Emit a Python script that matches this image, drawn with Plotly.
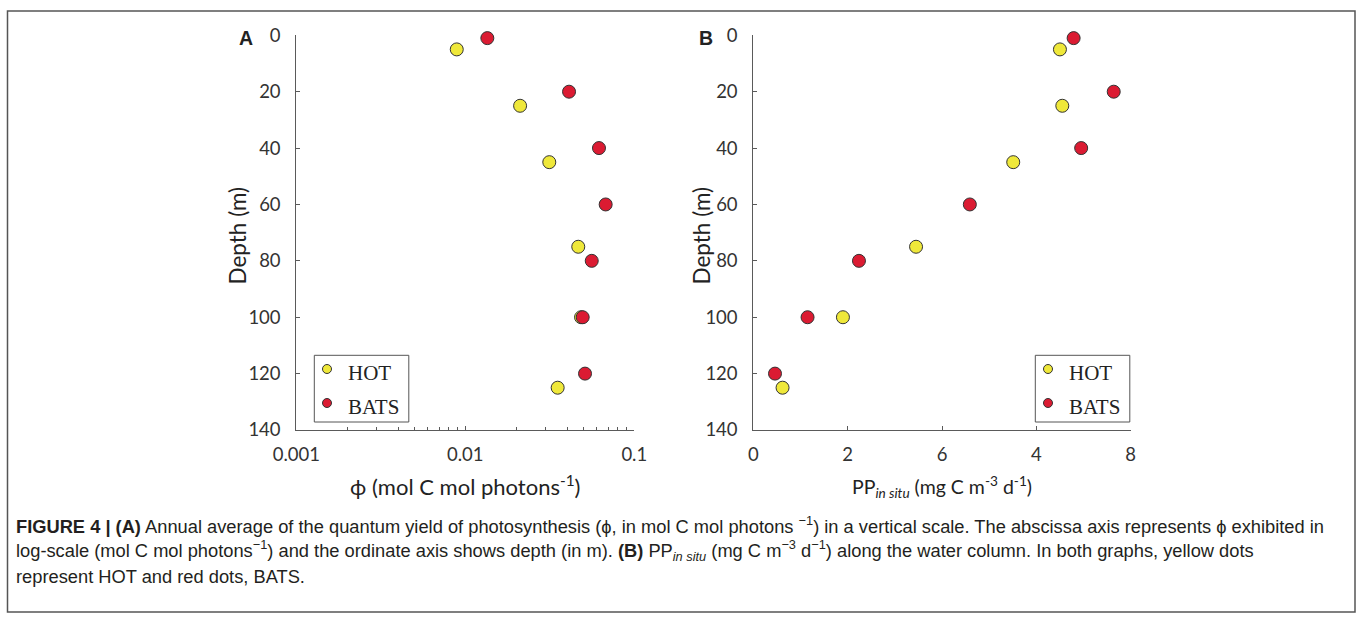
import plotly.graph_objects as go

# ---- data ----
depth_hot = [5, 25, 45, 75, 100, 125]
depth_bats = [1, 20, 40, 60, 80, 100, 120]
phi_hot = [0.0089, 0.0211, 0.0314, 0.0466, 0.0484, 0.0352]
phi_bats = [0.0135, 0.0411, 0.0618, 0.0677, 0.0560, 0.0495, 0.0511]
pp_hot = [6.50, 6.55, 5.51, 3.45, 1.90, 0.62]
pp_bats = [6.79, 7.64, 6.95, 4.59, 2.24, 1.15, 0.46]

y_ticks = [0, 20, 40, 60, 80, 100, 120, 140]
xa_ticks = [0.001, 0.01, 0.1]
xa_labels = ["0.001", "0.01", "0.1"]
xa_minor = [k * 0.001 for k in range(2, 10)] + [k * 0.01 for k in range(2, 10)]
xb_ticks = [0, 2, 4, 6, 8]
xb_labels = ["0", "2", "6", "4", "8"]   # as printed in the original figure
series_names = ["HOT", "BATS"]

YELLOW = "#EFE83A"
RED = "#DB1B32"
EDGE = "#333333"
AXC = "#5a5a5a"
W, H = 1362, 619

def px(x):
    return x / W

def py(y):
    return 1 - y / H

fig = go.Figure()

def mk(color, size):
    return dict(size=size, color=color, line=dict(color=EDGE, width=1))

# Panel A
fig.add_trace(go.Scatter(x=phi_hot, y=depth_hot, mode="markers", marker=mk(YELLOW, 13),
                         xaxis="x", yaxis="y", showlegend=False, name="HOT", cliponaxis=False))
fig.add_trace(go.Scatter(x=phi_bats, y=depth_bats, mode="markers", marker=mk(RED, 13),
                         xaxis="x", yaxis="y", showlegend=False, name="BATS", cliponaxis=False))
# Panel B
fig.add_trace(go.Scatter(x=pp_hot, y=depth_hot, mode="markers", marker=mk(YELLOW, 13),
                         xaxis="x2", yaxis="y2", showlegend=False, name="HOT", cliponaxis=False))
fig.add_trace(go.Scatter(x=pp_bats, y=depth_bats, mode="markers", marker=mk(RED, 13),
                         xaxis="x2", yaxis="y2", showlegend=False, name="BATS", cliponaxis=False))

tickfont = dict(family="Lato", size=18.5, color="#333333")

def tfont(size):
    return dict(family="Lato", size=size, color="#222222")

common = dict(showline=True, linecolor=AXC, linewidth=1, ticks="inside", ticklen=4,
              tickcolor=AXC, tickwidth=1, showgrid=False, zeroline=False, mirror=False,
              tickfont=tickfont, automargin=False)

ydom = [py(430), py(35.3)]

fig.update_layout(
    width=W, height=H,
    margin=dict(l=0, r=0, t=0, b=0, pad=0, autoexpand=False),
    paper_bgcolor="white", plot_bgcolor="white",
    showlegend=False,
    xaxis=dict(domain=[px(296.3), px(634.3)], type="log", range=[-3, -1],
               tickmode="array", tickvals=xa_ticks, ticktext=xa_labels, ticklabelstandoff=8,
               minor=dict(tickmode="array", tickvals=xa_minor, ticks="inside", ticklen=3,
                          tickcolor=AXC, showgrid=False),
               title=dict(text="ϕ (mol C mol photons<sup>-1</sup>)", font=tfont(22), standoff=15),
               anchor="y", **common),
    yaxis=dict(domain=ydom, range=[140, 0], autorange=False, tickmode="array", tickvals=y_ticks,
               ticklabelstandoff=11, anchor="x", **common),
    xaxis2=dict(domain=[px(753.3), px(1130.7)], range=[0, 8], tickmode="array",
                tickvals=xb_ticks, ticktext=xb_labels, ticklabelstandoff=8,
                title=dict(text="PP<sub><i>in situ</i></sub> (mg C m<sup>-3</sup> d<sup>-1</sup>)",
                           font=tfont(19.5), standoff=16),
                anchor="y2", **common),
    yaxis2=dict(domain=ydom, range=[140, 0], autorange=False, tickmode="array", tickvals=y_ticks,
                ticklabelstandoff=11, anchor="x2", **common),
)

# y-axis titles
for x in [237, 701]:
    fig.add_annotation(text="Depth (m)", xref="paper", yref="paper", x=px(x), y=py(235.5),
                       textangle=-90, xanchor="center", yanchor="middle", showarrow=False,
                       font=tfont(22.5))

# legends (drawn as a boxed key in each panel)
legend_font = dict(family="Liberation Serif", size=21, color="#222222")
for box_left in [314.3, 1035.3]:
    fig.add_shape(type="rect", xref="paper", yref="paper",
                  x0=px(box_left), x1=px(box_left + 94.5), y0=py(422), y1=py(355.3),
                  line=dict(color="#555555", width=1), fillcolor="white", layer="above")
    for name, color, yc in zip(series_names, [YELLOW, RED], [369, 403]):
        cx = box_left + 12.7
        fig.add_shape(type="circle", xref="paper", yref="paper", xsizemode="pixel",
                      ysizemode="pixel", xanchor=px(cx), yanchor=py(yc),
                      x0=-4.5, x1=4.5, y0=-4.5, y1=4.5,
                      fillcolor=color, line=dict(color=EDGE, width=1), layer="above")
        fig.add_annotation(text=name, xref="paper", yref="paper", x=px(box_left + 31.5),
                           y=py(yc + 4), xanchor="left", yanchor="middle", showarrow=False,
                           font=legend_font)

# panel letters
for letter, x in [("A", 245.5), ("B", 705.5)]:
    fig.add_annotation(text="<b>%s</b>" % letter, xref="paper", yref="paper",
                       x=px(x), y=py(38), xanchor="center", yanchor="middle", showarrow=False,
                       font=dict(family="Liberation Sans", size=19.5, color="#222222"))

# caption
cap_font = dict(family="Liberation Sans", size=18.3, color="#231f20")
cap_lines = [
    "<b>FIGURE 4 | (A)</b> Annual average of the quantum yield of photosynthesis (ϕ, in mol C mol photons <sup>−1</sup>) in a vertical scale. The abscissa axis represents ϕ exhibited in",
    "log-scale (mol C mol photons<sup>−1</sup>) and the ordinate axis shows depth (in m). <b>(B)</b> PP<sub><i>in situ</i></sub> (mg C m<sup>−3</sup> d<sup>−1</sup>) along the water column. In both graphs, yellow dots",
    "represent HOT and red dots, BATS.",
]
for txt, y in zip(cap_lines, [525, 550, 576]):
    fig.add_annotation(text=txt, xref="paper", yref="paper", x=px(14), y=py(y),
                       xanchor="left", yanchor="middle", showarrow=False, align="left",
                       font=cap_font)

# figure frame
fig.add_shape(type="rect", xref="paper", yref="paper", x0=px(7.5), x1=px(1355), y0=py(612), y1=py(11),
              line=dict(color="#555555", width=1.5))

fig.write_html("out.html")
